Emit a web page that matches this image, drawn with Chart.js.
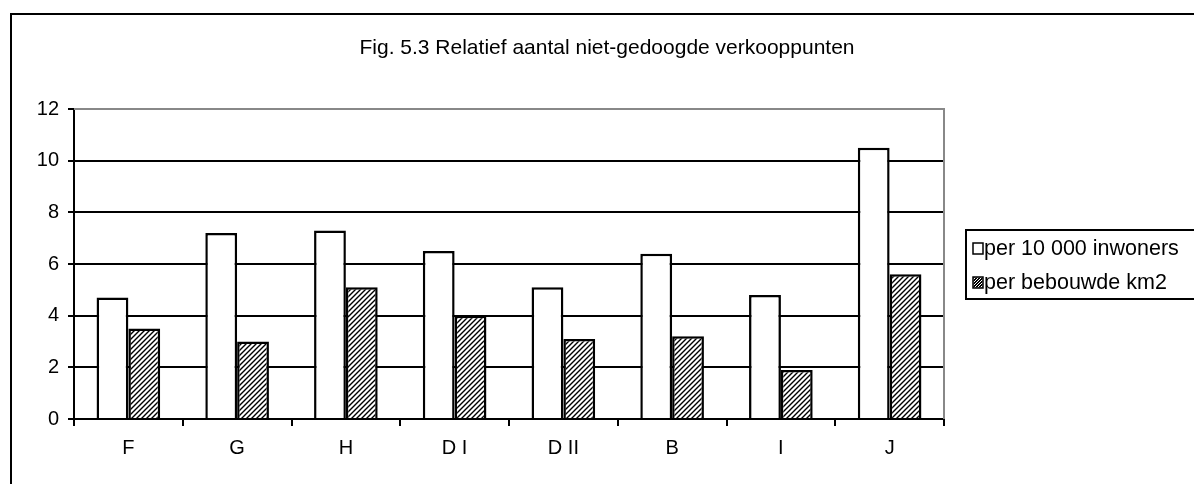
<!DOCTYPE html>
<html lang="nl">
<head>
    <meta charset="UTF-8">
    <title>Fig. 5.3</title>
    <script src="https://cdn.jsdelivr.net/npm/chart.js"></script>
    <style>
        html, body { margin: 0; padding: 0; background: #fff; }
        #wrap { width: 1194px; height: 484px; position: relative; }
    </style>
</head>
<body>
    <div id="wrap"><canvas id="chart"></canvas></div>

    <script>
        // data
        const categories = ['F', 'G', 'H', 'D I', 'D II', 'B', 'I', 'J'];
        const perInwoners = [4.7, 7.2, 7.3, 6.5, 5.1, 6.4, 4.8, 10.5];
        const perKm2 = [3.5, 3.0, 5.1, 4.0, 3.1, 3.2, 1.9, 5.6];
        const seriesLabels = ['per 10 000 inwoners', 'per bebouwde km2'];
        const titleText = 'Fig. 5.3 Relatief aantal niet-gedoogde verkooppunten';

        const FONT = "'Liberation Sans', Arial, sans-serif";

        // diagonal hatch like the old excel fill
        function makeHatch() {
            const c = document.createElement('canvas');
            c.width = 5; c.height = 5;
            const g = c.getContext('2d');
            g.fillStyle = '#fff';
            g.fillRect(0, 0, 5, 5);
            g.strokeStyle = '#000';
            g.lineWidth = 1.4;
            g.beginPath();
            g.moveTo(-1, 6); g.lineTo(6, -1);
            g.moveTo(-1, 1); g.lineTo(1, -1);
            g.moveTo(4, 6); g.lineTo(6, 4);
            g.stroke();
            return g.createPattern(c, 'repeat');
        }
        const hatch = makeHatch();

        // frame, title, plot border and legend box
        const decor = {
            id: 'decor',
            afterDraw(chart) {
                const ctx = chart.ctx;
                const a = chart.chartArea;
                ctx.save();

                // grey plot border top/right
                ctx.strokeStyle = '#888';
                ctx.lineWidth = 2;
                ctx.beginPath();
                ctx.moveTo(a.left, a.top);
                ctx.lineTo(a.right, a.top);
                ctx.lineTo(a.right, a.bottom);
                ctx.stroke();

                // outer frame
                ctx.strokeStyle = '#000';
                ctx.lineWidth = 2;
                ctx.beginPath();
                ctx.moveTo(11, 490);
                ctx.lineTo(11, 14);
                ctx.lineTo(1200, 14);
                ctx.stroke();

                // title
                ctx.fillStyle = '#000';
                ctx.font = '21px ' + FONT;
                ctx.textAlign = 'center';
                ctx.textBaseline = 'middle';
                ctx.fillText(titleText, 607, 48);

                // legend
                ctx.lineWidth = 2;
                ctx.strokeRect(966, 230, 240, 69);
                const rows = [249, 283];
                chart.data.datasets.forEach((ds, i) => {
                    const y = rows[i];
                    ctx.fillStyle = i === 0 ? '#fff' : '#000';
                    ctx.fillRect(973, y - 6, 10, 11);
                    if (i === 1) {
                        ctx.strokeStyle = '#fff';
                        ctx.lineWidth = 1;
                        ctx.beginPath();
                        for (let k = -8; k < 12; k += 3) {
                            ctx.moveTo(973 + k, y + 5);
                            ctx.lineTo(973 + k + 11, y - 6);
                        }
                        ctx.save();
                        ctx.rect(973, y - 6, 10, 11);
                        ctx.clip();
                        ctx.stroke();
                        ctx.restore();
                    }
                    ctx.strokeStyle = '#000';
                    ctx.lineWidth = 1.5;
                    ctx.strokeRect(973, y - 6, 10, 11);
                    ctx.fillStyle = '#000';
                    ctx.font = '21.5px ' + FONT;
                    ctx.textAlign = 'left';
                    ctx.textBaseline = 'middle';
                    ctx.fillText(ds.label, 984, y);
                });
                ctx.restore();
            }
        };

        const ctx = document.getElementById('chart').getContext('2d');
        const chart = new Chart(ctx, {
            type: 'bar',
            data: {
                labels: categories,
                datasets: [{
                    label: seriesLabels[0],
                    data: perInwoners,
                    backgroundColor: '#fff',
                    borderColor: '#000',
                    borderWidth: 2.5
                }, {
                    label: seriesLabels[1],
                    data: perKm2,
                    backgroundColor: hatch,
                    borderColor: '#000',
                    borderWidth: 2.5
                }]
            },
            options: {
                responsive: true,
                maintainAspectRatio: false,
                animation: false,
                datasets: {
                    bar: { categoryPercentage: 0.585, barPercentage: 1.0 }
                },
                layout: { padding: { top: 109, right: 250, left: 0, bottom: 0 } },
                plugins: {
                    legend: { display: false },
                    title: { display: false },
                    tooltip: { enabled: false }
                },
                scales: {
                    x: {
                        offset: true,
                        grid: {
                            offset: true,
                            drawOnChartArea: false,
                            drawTicks: true,
                            tickLength: 7,
                            color: '#000',
                            lineWidth: 2
                        },
                        border: { color: '#000', width: 2 },
                        ticks: {
                            color: '#000',
                            font: { family: FONT, size: 20 },
                            padding: 10
                        },
                        afterFit(scale) { scale.height = 65; }
                    },
                    y: {
                        min: 0,
                        max: 12,
                        ticks: {
                            stepSize: 2,
                            color: '#000',
                            font: { family: FONT, size: 20 },
                            padding: 9
                        },
                        grid: {
                            color: c => (c.tick && c.tick.value === 12) ? '#888' : '#000',
                            tickColor: '#000',
                            lineWidth: 2,
                            tickLength: 6
                        },
                        border: { color: '#000', width: 2 },
                        afterFit(scale) { scale.width = 74; }
                    }
                }
            },
            plugins: [decor]
        });
    </script>
</body>
</html>
